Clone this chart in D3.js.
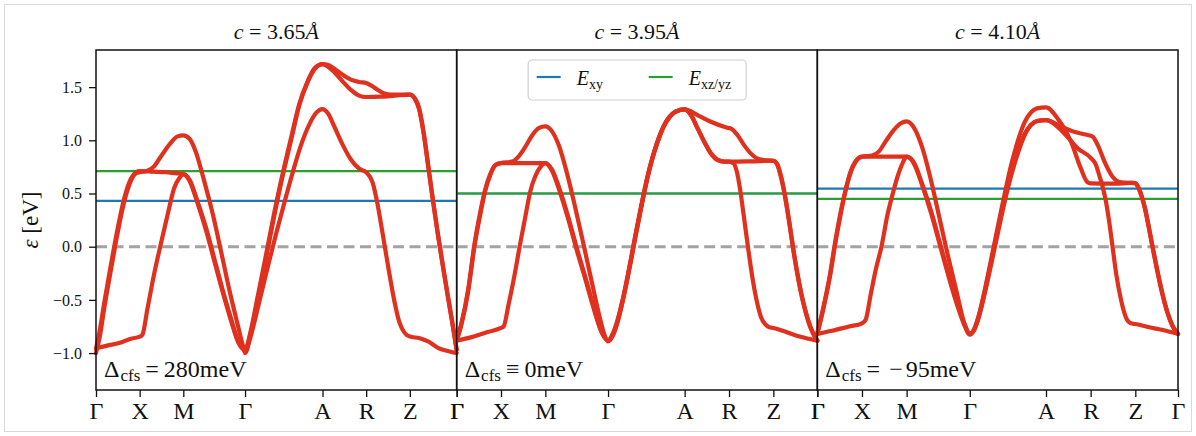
<!DOCTYPE html>
<html>
<head>
<meta charset="utf-8">
<script src="https://cdn.jsdelivr.net/npm/d3@7"></script>
<style>
  body { margin: 0; background: #fff; }
  svg { display: block; }
  text { font-family: "Liberation Serif", "Times New Roman", serif; fill: #111; }
</style>
</head>
<body>
<script>
// ---- data ----
const tickLabels = ["Γ", "X", "M", "Γ", "A", "R", "Z", "Γ"];
const cValues = ["3.65", "3.95", "4.10"];
const cfsSymbols = ["=", "≡", "="];
const cfsValues = ["280", "0", "−95"];
const yTicks = [-1.0, -0.5, 0.0, 0.5, 1.0, 1.5];
const eXy = [0.43, 0.50, 0.545];
const eXzYz = [0.71, 0.50, 0.45];
const legendLabels = ["xy", "xz/yz"];

// path length (units of pi/a) at the high symmetry points
const kTicks365 = [0, 1, 2, 3.414, 5.189, 6.189, 7.189, 8.262];
const kTicks395 = [0, 1, 2, 3.414, 5.142, 6.142, 7.142, 8.134];
const kTicks410 = [0, 1, 2, 3.414, 5.121, 6.121, 7.121, 8.077];

// bands: [segment position (0..7 along the path), energy in eV]
const band365Xy = [[0,-1.00],[0.08,-0.86],[0.2,-0.55],[0.35,-0.20],[0.5,0.14],[0.65,0.43],[0.8,0.62],[0.92,0.69],[1,0.70],
  [1.18,0.714],[1.33,0.755],[1.49,0.85],[1.68,0.96],[1.87,1.037],[2,1.046],
  [2.1,1.015],[2.2,0.896],[2.34,0.614],[2.48,0.30],[2.61,-0.04],[2.74,-0.39],[2.88,-0.73],[2.96,-0.92],[3,-1.0],
  [3.074,-0.84],[3.18,-0.53],[3.29,-0.20],[3.4,0.12],[3.51,0.42],[3.62,0.71],[3.72,0.95],[3.83,1.15],[3.92,1.26],[4,1.294],
  [4.12,1.256],[4.27,1.13],[4.46,0.96],[4.65,0.82],[4.84,0.733],[5,0.70],
  [5.15,0.60],[5.26,0.40],[5.35,0.19],[5.44,-0.03],[5.53,-0.25],[5.65,-0.52],[5.76,-0.71],[5.88,-0.81],[6,-0.845],
  [6.21,-0.86],[6.39,-0.89],[6.6,-0.95],[6.81,-0.98],[7,-1.0]];
const band365Xz = [[0,-0.96],[0.08,-0.80],[0.2,-0.50],[0.35,-0.15],[0.5,0.18],[0.65,0.46],[0.8,0.64],[0.92,0.70],[1,0.71],
  [1.3,0.705],[1.6,0.70],[1.85,0.69],[2,0.685],
  [2.1,0.63],[2.23,0.426],[2.37,0.175],[2.5,-0.107],[2.63,-0.39],[2.77,-0.67],[2.9,-0.905],[3,-0.97],
  [3.074,-0.81],[3.16,-0.51],[3.27,-0.11],[3.38,0.30],[3.49,0.68],[3.6,1.02],[3.7,1.33],[3.81,1.55],[3.9,1.67],[4,1.717],
  [4.12,1.695],[4.27,1.64],[4.46,1.554],[4.65,1.475],[4.84,1.42],[5,1.407],
  [5.33,1.41],[5.65,1.42],[6,1.43],
  [6.1,1.40],[6.2,1.30],[6.3,1.06],[6.4,0.74],[6.5,0.42],[6.6,0.12],[6.7,-0.16],[6.8,-0.43],[6.9,-0.69],[7,-0.97]];
const band365Yz = [[0,-0.955],[0.26,-0.93],[0.57,-0.90],[0.8,-0.865],[1,-0.846],
  [1.06,-0.83],[1.18,-0.58],[1.33,-0.26],[1.47,0],[1.64,0.30],[1.79,0.55],[1.91,0.645],[2,0.68],
  [2.1,0.62],[2.23,0.41],[2.37,0.15],[2.5,-0.13],[2.63,-0.41],[2.77,-0.69],[2.9,-0.91],[3,-0.97],
  [3.074,-0.79],[3.16,-0.48],[3.27,-0.08],[3.38,0.33],[3.49,0.70],[3.6,1.04],[3.7,1.34],[3.81,1.56],[3.9,1.68],[4,1.717],
  [4.12,1.711],[4.27,1.673],[4.46,1.617],[4.65,1.57],[4.84,1.548],[5,1.538],
  [5.11,1.516],[5.26,1.476],[5.42,1.44],[5.57,1.43],[6,1.43],
  [6.1,1.395],[6.2,1.29],[6.3,1.05],[6.4,0.73],[6.5,0.41],[6.6,0.11],[6.7,-0.17],[6.8,-0.44],[6.9,-0.70],[7,-0.97]];

const band395Xy = [[0,-0.883],[0.107,-0.733],[0.26,-0.42],[0.4,0],[0.53,0.30],[0.64,0.52],[0.76,0.677],[0.87,0.764],[1,0.786],
  [1.25,0.80],[1.4,0.85],[1.55,0.94],[1.7,1.046],[1.85,1.115],[2,1.131],
  [2.106,1.084],[2.21,0.96],[2.35,0.68],[2.48,0.36],[2.61,0.02],[2.74,-0.33],[2.87,-0.67],[2.95,-0.84],[3,-0.89],
  [3.06,-0.84],[3.12,-0.72],[3.18,-0.55],[3.24,-0.35],[3.3,-0.13],[3.36,0.10],[3.42,0.32],[3.48,0.53],[3.54,0.72],[3.6,0.88],[3.66,1.01],[3.72,1.12],[3.8,1.215],[3.88,1.268],[4,1.29],
  [4.14,1.237],[4.29,1.112],[4.44,0.987],[4.59,0.877],[4.74,0.815],[4.89,0.80],[5,0.80],
  [5.11,0.78],[5.18,0.70],[5.25,0.54],[5.33,0.30],[5.42,0.02],[5.52,-0.27],[5.62,-0.50],[5.72,-0.66],[5.82,-0.73],[5.91,-0.757],[6,-0.764],
  [6.21,-0.79],[6.48,-0.83],[6.75,-0.86],[7,-0.883]];
const band395Xz = [[0,-0.88],[0.107,-0.72],[0.26,-0.40],[0.4,0.02],[0.53,0.32],[0.64,0.53],[0.76,0.685],[0.87,0.768],[1,0.786],
  [1.3,0.786],[1.6,0.785],[2,0.786],
  [2.106,0.724],[2.24,0.52],[2.37,0.27],[2.5,-0.01],[2.64,-0.29],[2.77,-0.56],[2.9,-0.80],[3,-0.88],
  [3.06,-0.82],[3.12,-0.70],[3.18,-0.53],[3.24,-0.33],[3.3,-0.11],[3.36,0.12],[3.42,0.34],[3.48,0.55],[3.54,0.735],[3.6,0.89],[3.66,1.02],[3.72,1.125],[3.8,1.22],[3.88,1.27],[4,1.29],
  [4.14,1.24],[4.29,1.115],[4.44,0.99],[4.59,0.88],[4.74,0.818],[4.89,0.80],[5,0.80],
  [5.5,0.803],[6,0.808],
  [6.084,0.78],[6.176,0.66],[6.27,0.47],[6.36,0.24],[6.45,-0.01],[6.56,-0.28],[6.68,-0.52],[6.8,-0.70],[6.9,-0.81],[7,-0.883]];
const band395Yz = [[0,-0.883],[0.34,-0.85],[0.72,-0.80],[1,-0.764],
  [1.06,-0.75],[1.17,-0.545],[1.29,-0.30],[1.42,0],[1.55,0.285],[1.66,0.52],[1.77,0.66],[1.89,0.75],[2,0.786],
  [2.106,0.715],[2.24,0.50],[2.37,0.25],[2.5,-0.03],[2.64,-0.31],[2.77,-0.58],[2.9,-0.81],[3,-0.883],
  [3.06,-0.83],[3.12,-0.71],[3.18,-0.54],[3.24,-0.34],[3.3,-0.12],[3.36,0.11],[3.42,0.33],[3.48,0.54],[3.54,0.727],[3.6,0.885],[3.66,1.015],[3.72,1.122],[3.8,1.218],[3.88,1.269],[4,1.29],
  [4.29,1.237],[4.59,1.175],[4.89,1.128],[5,1.115],
  [5.04,1.112],[5.19,1.05],[5.34,0.955],[5.49,0.877],[5.63,0.83],[5.78,0.815],[6,0.808],
  [6.084,0.775],[6.176,0.65],[6.27,0.46],[6.36,0.23],[6.45,-0.02],[6.56,-0.29],[6.68,-0.53],[6.8,-0.71],[6.9,-0.815],[7,-0.883]];

const band410Xy = [[0,-0.82],[0.14,-0.576],[0.29,-0.263],[0.39,0],[0.52,0.30],[0.63,0.52],[0.74,0.69],[0.86,0.80],[1,0.846],
  [1.23,0.858],[1.38,0.896],[1.53,0.99],[1.72,1.10],[1.87,1.16],[2,1.178],
  [2.12,1.115],[2.25,0.927],[2.39,0.614],[2.52,0.27],[2.65,-0.075],[2.79,-0.42],[2.92,-0.733],[3,-0.827],
  [3.06,-0.78],[3.12,-0.66],[3.18,-0.49],[3.24,-0.30],[3.3,-0.10],[3.36,0.10],[3.42,0.30],[3.48,0.49],[3.54,0.66],[3.6,0.81],[3.66,0.94],[3.72,1.05],[3.8,1.14],[3.88,1.18],[4,1.19],
  [4.41,1.065],[4.71,0.924],[5,0.836],
  [5.12,0.768],[5.19,0.674],[5.27,0.56],[5.34,0.43],[5.42,0.22],[5.49,0],[5.57,-0.25],[5.68,-0.50],[5.79,-0.665],[5.9,-0.72],[6,-0.727],
  [6.25,-0.75],[6.48,-0.77],[6.76,-0.795],[7,-0.82]];
const band410Xz = [[0,-0.81],[0.14,-0.56],[0.29,-0.245],[0.39,0.02],[0.52,0.32],[0.63,0.53],[0.74,0.70],[0.86,0.805],[1,0.846],
  [1.3,0.846],[1.6,0.846],[2,0.846],
  [2.12,0.786],[2.25,0.583],[2.39,0.33],[2.52,0.05],[2.65,-0.23],[2.79,-0.51],[2.92,-0.733],[3,-0.82],
  [3.06,-0.77],[3.12,-0.64],[3.18,-0.46],[3.24,-0.26],[3.3,-0.05],[3.36,0.16],[3.42,0.37],[3.48,0.57],[3.54,0.76],[3.6,0.92],[3.66,1.06],[3.72,1.17],[3.8,1.26],[3.88,1.30],[4,1.31],
  [4.26,1.206],[4.56,0.987],[4.78,0.736],[4.93,0.605],[5,0.595],
  [5.53,0.592],[5.9,0.60],[6,0.598],
  [6.05,0.575],[6.14,0.49],[6.23,0.36],[6.32,0.18],[6.42,-0.03],[6.52,-0.23],[6.63,-0.43],[6.75,-0.61],[6.87,-0.74],[7,-0.82]];
const band410Yz = [[0,-0.82],[0.33,-0.79],[0.71,-0.75],[1,-0.72],
  [1.083,-0.686],[1.195,-0.45],[1.308,-0.216],[1.436,0],[1.571,0.30],[1.684,0.49],[1.797,0.66],[1.91,0.786],[2,0.846],
  [2.12,0.776],[2.25,0.57],[2.39,0.31],[2.52,0.03],[2.65,-0.25],[2.79,-0.53],[2.92,-0.745],[3,-0.82],
  [3.06,-0.775],[3.12,-0.65],[3.18,-0.475],[3.24,-0.28],[3.3,-0.075],[3.36,0.13],[3.42,0.33],[3.48,0.52],[3.54,0.69],[3.6,0.835],[3.66,0.96],[3.72,1.06],[3.8,1.145],[3.88,1.182],[4,1.19],
  [4.34,1.128],[4.63,1.08],[4.93,1.05],[5,1.043],
  [5.045,1.034],[5.16,0.955],[5.31,0.80],[5.49,0.658],[5.69,0.605],[5.9,0.60],[6,0.598],
  [6.05,0.57],[6.14,0.48],[6.23,0.35],[6.32,0.17],[6.42,-0.04],[6.52,-0.24],[6.63,-0.44],[6.75,-0.62],[6.87,-0.745],[7,-0.82]];

// ---- layout ----
const width = 1196, height = 436;
const plotLeft = 96, plotRight = 1178, plotTop = 50, plotBottom = 390;
const panelW = (plotRight - plotLeft) / 3;
const red = "#e0301e", blue = "#1f77b4", green = "#2ca02c";

const panels = [
  { k: kTicks365, bands: [band365Xy, band365Xz, band365Yz] },
  { k: kTicks395, bands: [band395Xy, band395Xz, band395Yz] },
  { k: kTicks410, bands: [band410Xy, band410Xz, band410Yz] }
];

const svg = d3.select("body").append("svg")
  .attr("width", width)
  .attr("height", height);

svg.append("rect")
  .attr("x", 4.5).attr("y", 4.5)
  .attr("width", width - 9).attr("height", height - 9)
  .attr("fill", "#fff").attr("stroke", "#d9d9d9");

const y = d3.scaleLinear().domain([-1.347, 1.849]).range([plotBottom, plotTop]);

panels.forEach((p, i) => {
  const x0 = plotLeft + i * panelW;
  const g = svg.append("g");
  const tk = d3.scaleLinear().domain(d3.range(8)).range(p.k);
  const x = d3.scaleLinear().domain([0, p.k[7]]).range([x0, x0 + panelW]);

  // level lines
  g.append("line")
    .attr("x1", x0).attr("x2", x0 + panelW)
    .attr("y1", y(eXy[i])).attr("y2", y(eXy[i]))
    .attr("stroke", blue).attr("stroke-width", 2.2);
  g.append("line")
    .attr("x1", x0).attr("x2", x0 + panelW)
    .attr("y1", y(eXzYz[i])).attr("y2", y(eXzYz[i]))
    .attr("stroke", green).attr("stroke-width", 2.2);
  g.append("line")
    .attr("x1", x0).attr("x2", x0 + panelW)
    .attr("y1", y(0)).attr("y2", y(0))
    .attr("stroke", "#a3a3a3").attr("stroke-width", 3)
    .attr("stroke-dasharray", "11,5.5");

  // bands
  const line = d3.line()
    .x(d => x(tk(d[0])))
    .y(d => y(d[1]))
    .curve(d3.curveMonotoneX);
  g.selectAll("path.band")
    .data(p.bands)
    .join("path")
    .attr("class", "band")
    .attr("d", line)
    .attr("fill", "none")
    .attr("stroke", red)
    .attr("stroke-width", 4.2)
    .attr("stroke-linejoin", "round")
    .attr("stroke-linecap", "round");

  // frame
  g.append("rect")
    .attr("x", x0).attr("y", plotTop)
    .attr("width", panelW).attr("height", plotBottom - plotTop)
    .attr("fill", "none").attr("stroke", "#111").attr("stroke-width", 1.5);

  // x axis
  const xAxis = g.append("g")
    .attr("transform", `translate(0,${plotBottom})`)
    .call(d3.axisBottom(x).tickValues(p.k).tickFormat((d, j) => tickLabels[j]).tickSize(7).tickPadding(5));
  xAxis.select(".domain").remove();
  xAxis.selectAll("line").attr("stroke", "#111").attr("stroke-width", 1.3);
  xAxis.selectAll("text").attr("font-size", 24).attr("font-family", null).attr("fill", "#111");

  // title
  const title = g.append("text")
    .attr("x", x0 + panelW / 2).attr("y", 39)
    .attr("text-anchor", "middle")
    .attr("font-size", 22);
  title.append("tspan").attr("font-style", "italic").text("c");
  title.append("tspan").text(" = " + cValues[i]);
  title.append("tspan").attr("font-style", "italic").text("Å");

  // crystal field annotation
  const ann = g.append("text")
    .attr("x", x0 + 8).attr("y", 377)
    .attr("font-size", 24);
  ann.append("tspan").text("Δ");
  ann.append("tspan").attr("font-size", 17).attr("dy", 4).attr("dx", 1).text("cfs");
  ann.append("tspan").attr("dy", -4).attr("dx", 5).text(cfsSymbols[i]);
  const v = cfsValues[i];
  if (v.startsWith("−")) {
    ann.append("tspan").attr("dx", 9).text("−");
    ann.append("tspan").attr("dx", 3).text(v.slice(1) + "meV");
  } else {
    ann.append("tspan").attr("dx", 5).text(v + "meV");
  }
});

// y axis on the first panel
const yAxis = svg.append("g")
  .attr("transform", `translate(${plotLeft},0)`)
  .call(d3.axisLeft(y).tickValues(yTicks).tickFormat(d3.format(".1f")).tickSize(7).tickPadding(7));
yAxis.select(".domain").remove();
yAxis.selectAll("line").attr("stroke", "#111").attr("stroke-width", 1.3);
yAxis.selectAll("text").attr("font-size", 16).attr("font-family", null).attr("fill", "#111");

const yLabel = svg.append("text")
  .attr("transform", `translate(38,${(plotTop + plotBottom) / 2}) rotate(-90)`)
  .attr("text-anchor", "middle")
  .attr("font-size", 23);
yLabel.append("tspan").attr("font-style", "italic").text("ε");
yLabel.append("tspan").text(" [eV]");

// legend in the middle panel
const lx = plotLeft + panelW;
const legend = svg.append("g");
legend.append("rect")
  .attr("x", lx + 71.5).attr("y", 60)
  .attr("width", 218).attr("height", 40)
  .attr("rx", 4)
  .attr("fill", "#fff").attr("fill-opacity", 0.85)
  .attr("stroke", "#cfcfcf").attr("stroke-width", 1.2);
[blue, green].forEach((col, j) => {
  const ex = lx + 80 + j * 112;
  legend.append("line")
    .attr("x1", ex).attr("x2", ex + 24)
    .attr("y1", 77).attr("y2", 77)
    .attr("stroke", col).attr("stroke-width", 2.2);
  const t = legend.append("text")
    .attr("x", ex + 40).attr("y", 85)
    .attr("font-size", 20);
  t.append("tspan").attr("font-style", "italic").text("E");
  t.append("tspan").attr("font-size", 14).attr("dy", 4).text(legendLabels[j]);
});
</script>
</body>
</html>
